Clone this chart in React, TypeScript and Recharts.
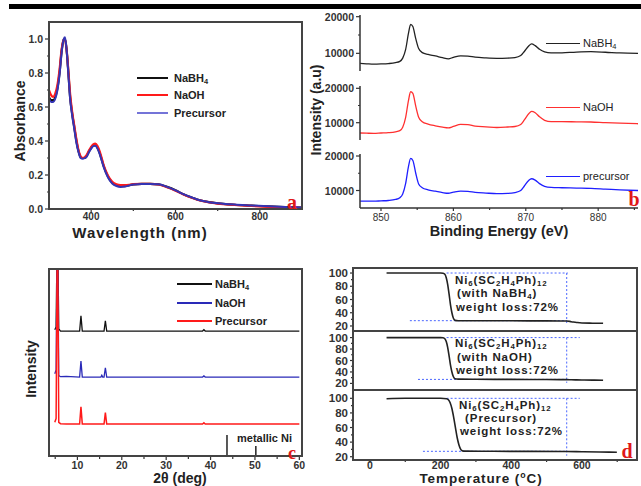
import React from 'react';
import { LineChart, Line, XAxis, YAxis, Legend, ReferenceLine } from 'recharts';

const W = 641;
const H = 486;
const SANS = '"Liberation Sans", Arial, Helvetica, sans-serif';
const SERIF = '"Liberation Serif", "Times New Roman", serif';

// (a) UV-vis absorbance
const uvWavelength = [300, 305, 310, 315, 320, 325, 330, 335, 338, 342, 346, 350, 355, 360, 365, 370, 375, 380, 385, 390, 395, 400, 405, 410, 415, 420, 425, 430, 440, 450, 460, 470, 480, 490, 500, 520, 540, 560, 580, 600, 620, 640, 660, 680, 700, 740, 780, 820, 860, 900];
const uvNaBH4 = [0.66, 0.64, 0.64, 0.66, 0.71, 0.8, 0.93, 1.0, 1.0, 0.93, 0.8, 0.66, 0.56, 0.48, 0.4, 0.34, 0.305, 0.3, 0.3, 0.315, 0.34, 0.36, 0.375, 0.375, 0.36, 0.33, 0.29, 0.25, 0.19, 0.155, 0.14, 0.135, 0.135, 0.14, 0.145, 0.148, 0.148, 0.145, 0.13, 0.11, 0.085, 0.066, 0.05, 0.04, 0.033, 0.025, 0.02, 0.015, 0.011, 0.008];
const uvNaOH = [0.7, 0.67, 0.66, 0.68, 0.73, 0.82, 0.94, 1.0, 1.0, 0.93, 0.81, 0.68, 0.57, 0.49, 0.41, 0.345, 0.31, 0.3, 0.305, 0.32, 0.345, 0.365, 0.38, 0.385, 0.37, 0.34, 0.3, 0.255, 0.195, 0.16, 0.145, 0.14, 0.14, 0.142, 0.146, 0.148, 0.148, 0.144, 0.128, 0.108, 0.084, 0.065, 0.049, 0.039, 0.032, 0.024, 0.018, 0.013, 0.009, 0.006];
const uvPrecursor = [0.65, 0.63, 0.63, 0.65, 0.7, 0.79, 0.92, 1.0, 1.01, 0.93, 0.79, 0.65, 0.55, 0.47, 0.39, 0.335, 0.3, 0.295, 0.3, 0.31, 0.335, 0.355, 0.37, 0.372, 0.355, 0.325, 0.285, 0.245, 0.185, 0.15, 0.135, 0.13, 0.132, 0.138, 0.144, 0.147, 0.147, 0.145, 0.13, 0.11, 0.086, 0.067, 0.05, 0.04, 0.034, 0.026, 0.021, 0.016, 0.012, 0.009];
const uvTicks = [0, 0.1, 0.2, 0.3, 0.4, 0.5, 0.6, 0.7, 0.8, 0.9, 1.0];
const uvMajor = [0, 0.2, 0.4, 0.6, 0.8, 1.0];

// (b) XPS Ni 2p
const xpsEnergy = [847.1, 848, 849, 850, 851, 852, 852.6, 853.0, 853.4, 853.8, 854.1, 854.4, 854.8, 855.2, 855.7, 856.5, 857.5, 858.5, 859.3, 860.0, 861.0, 862.0, 863.0, 864.5, 866, 867.5, 868.5, 869.3, 869.8, 870.4, 870.8, 871.3, 871.9, 872.6, 873.5, 875, 877, 879, 881, 883, 885.5];
const xpsNaBH4 = [7250, 7150, 7050, 7100, 7200, 7450, 7800, 8700, 11000, 15500, 17900, 17300, 14000, 11300, 10200, 9700, 9300, 8800, 8500, 8900, 9300, 9250, 8950, 8750, 8650, 8700, 8850, 9400, 10500, 12000, 12600, 12100, 11100, 10400, 10100, 10150, 10350, 10450, 10300, 10100, 10000];
const xpsNaOH = [7000, 6950, 6900, 7000, 7100, 7350, 7700, 8700, 11500, 16500, 19000, 18500, 14800, 11600, 10300, 9600, 9100, 8700, 8500, 8900, 9500, 9450, 9000, 8800, 8600, 8750, 8900, 9500, 10800, 12600, 13300, 12900, 11700, 10700, 10300, 10300, 10250, 10200, 10000, 9850, 9700];
const xpsPrecursor = [6950, 6900, 6900, 7000, 7100, 7400, 7900, 9000, 12000, 17000, 19300, 18700, 15000, 11900, 10800, 10200, 9800, 9400, 9200, 9500, 9800, 9750, 9450, 9250, 9100, 9150, 9400, 10000, 11300, 12900, 13400, 13000, 12000, 11200, 10900, 10800, 10700, 10600, 10400, 10200, 10000];
const xpsDomains = [[5180, 20460], [4970, 20670], [4930, 20580]];

// (c) XRD (offset traces, arbitrary units)
const xrdAngle = [4.9, 5.2, 5.5, 5.8, 6.2, 7.5, 10.5, 10.8, 11.1, 15.3, 15.5, 15.7, 16.0, 16.3, 16.6, 38.2, 38.5, 38.8, 60];
const xrdNaBH4 = [67.5, 69, 130, 68, 66.8, 66.8, 66.8, 75, 66.8, 66.8, 66.8, 66.8, 66.8, 72.3, 66.8, 66.8, 67.5, 66.8, 66.8];
const xrdNaOH = [44, 46, 130, 43, 42.4, 42.6, 42.2, 50.8, 42.2, 42.2, 43.2, 42.2, 42.2, 47.2, 42.2, 42.2, 42.8, 42.2, 42.2];
const xrdPrecursor = [18, 20, 130, 18, 17.3, 17.1, 17.1, 26.3, 17.1, 17.1, 17.1, 17.1, 17.1, 23.2, 17.1, 17.1, 17.8, 17.1, 17.1];
const niLinePos = [43.7, 50.2];
const niLineHeight = [11.2, 5.3];

// (d) TGA weight %
const tgaTemp12 = [47, 100, 150, 200, 207, 212, 216, 220, 224, 228, 232, 236, 241, 250, 300, 400, 500, 557, 570, 585, 600, 630, 660];
const tgaNaBH4 = [100, 100, 100, 100, 99.6, 98, 93, 83, 68, 52, 40, 32, 28.5, 28, 27.9, 27.8, 27.7, 27.5, 26.5, 25.3, 24.5, 24.2, 24];
const tgaNaOH = [100, 100, 100, 100, 99.6, 98, 93, 83, 68, 52, 40, 32, 28, 27.4, 27.2, 27, 26.8, 26.6, 26.4, 26.2, 26, 25.7, 25.5];
const tgaTemp3 = [47, 100, 150, 200, 217, 222, 227, 232, 237, 242, 247, 252, 257, 262, 270, 350, 450, 557, 600, 650, 699];
const tgaPrecursor = [99.5, 100, 100, 100, 99.5, 98, 94, 86, 74, 60, 46, 36, 30, 28, 27.6, 27.4, 27.3, 27.2, 26.8, 26.4, 26.2];
const tgaDomains = [[12.4, 107.6], [8.5, 111.5], [15.5, 111.4]];
const tgaResidue = [28, 27, 27.4];
const tgaGuideTopEnd = [560, 594, 594];
const tgaGuideLowStart = [113, 136, 150];
const tgaCut = 557;

const uvRows = uvWavelength.map((x, i) => ({ x, nabh4: uvNaBH4[i], naoh: uvNaOH[i], precursor: uvPrecursor[i] }));
const xpsRows = xpsEnergy.map((x, i) => ({ x, nabh4: xpsNaBH4[i], naoh: xpsNaOH[i], precursor: xpsPrecursor[i] }));
const xrdRows = xrdAngle.map((x, i) => ({ x, nabh4: xrdNaBH4[i], naoh: xrdNaOH[i], precursor: xrdPrecursor[i] }));
const tgaRows = [
  tgaTemp12.map((x, i) => ({ x, w: tgaNaBH4[i] })),
  tgaTemp12.map((x, i) => ({ x, w: tgaNaOH[i] })),
  tgaTemp3.map((x, i) => ({ x, w: tgaPrecursor[i] })),
];

type Rect = { l: number; t: number; r: number; b: number };
const rectA: Rect = { l: 49, t: 22, r: 302, b: 209 };
const rectB: Rect[] = [
  { l: 360, t: 15, r: 638, b: 71 },
  { l: 360, t: 86, r: 638, b: 140 },
  { l: 360, t: 154, r: 638, b: 208 },
];
const rectC: Rect = { l: 49, t: 269, r: 302, b: 456 };
const rectD: Rect[] = [
  { l: 353, t: 268, r: 637, b: 331 },
  { l: 353, t: 331, r: 637, b: 390 },
  { l: 353, t: 390, r: 637, b: 460 },
];

const marginFor = (p: Rect, yw: number, xh: number) => ({ left: p.l - yw, top: p.t, right: W - p.r, bottom: H - p.b - xh });

type TickOpt = { len?: number; minor?: number; size?: number; weight?: string; fmt?: (v: number) => string; color?: string; gap?: number };
const tickFactory = (side: 'left' | 'bottom', major: number[], o: TickOpt) => (p: any) => {
  const v = p.payload?.value;
  const isMajor = major.some((m) => Math.abs(m - v) < 1e-9);
  const len = isMajor ? o.len ?? 4 : o.minor ?? 2;
  const color = o.color ?? '#333';
  const gap = o.gap ?? 2;
  const label = isMajor ? (o.fmt ? o.fmt(v) : String(v)) : '';
  const textProps = { fontSize: o.size ?? 10.5, fontWeight: o.weight ?? 'bold', fill: color, fontFamily: SANS };
  if (side === 'left') {
    return (
      <g>
        <line x1={p.x} x2={p.x - len} y1={p.y} y2={p.y} stroke={color} strokeWidth={1.2} />
        {label && <text x={p.x - len - gap} y={p.y} textAnchor="end" dominantBaseline="central" {...textProps}>{label}</text>}
      </g>
    );
  }
  const labelTop = p.y + (o.len ?? 4) + gap;
  return (
    <g>
      <line x1={p.x} x2={p.x} y1={p.y} y2={p.y + len} stroke={color} strokeWidth={1.2} />
      {label && <text x={p.x} y={labelTop} textAnchor="middle" dominantBaseline="hanging" {...textProps}>{label}</text>}
    </g>
  );
};

const Layer = ({ children }: { children: React.ReactNode }) => (
  <div style={{ position: 'absolute', left: 0, top: 0 }}>{children}</div>
);

const Frame = ({ r, color = '#444' }: { r: Rect; color?: string }) => (
  <div style={{ position: 'absolute', left: r.l - 1, top: r.t - 1, width: r.r - r.l - 2, height: r.b - r.t - 2, border: `2px solid ${color}` }} />
);

const Txt = ({ x, y, size, rotate, color = '#222', family = SANS, weight = 'bold', spacing = 0, children }: any) => (
  <div
    style={{
      position: 'absolute', left: x, top: y, fontFamily: family, fontWeight: weight, fontSize: size, color,
      letterSpacing: spacing, whiteSpace: 'nowrap', lineHeight: 1,
      transform: `translate(-50%, -50%)${rotate ? ' rotate(-90deg)' : ''}`,
    }}
  >
    {children}
  </div>
);

const Sub = ({ children }: { children: React.ReactNode }) => (
  <sub style={{ fontSize: '0.68em', verticalAlign: '-0.3em', lineHeight: 0 }}>{children}</sub>
);

type LegendItem = { key: string; color: string; label: React.ReactNode };
const LegendList = ({ items, lineW, gap, rowH, size, weight = 'bold', stroke = 2 }: { items: LegendItem[]; lineW: number; gap: number; rowH: number; size: number; weight?: string; stroke?: number }) => (
  <div style={{ fontFamily: SANS, fontWeight: weight, fontSize: size, color: '#222' }}>
    {items.map((it) => (
      <div key={it.key} style={{ display: 'flex', alignItems: 'center', height: rowH, whiteSpace: 'nowrap' }}>
        <span style={{ display: 'inline-block', width: lineW, height: 0, borderTop: `${stroke}px solid ${it.color}`, marginRight: gap }} />
        <span>{it.label}</span>
      </div>
    ))}
  </div>
);

const blackA = '#111111';
const redA = '#ff1a1a';
const blueA = '#3434b4';

const PanelA = () => (
  <Layer>
    <LineChart width={W} height={H} data={uvRows} margin={marginFor(rectA, 40, 30)}>
      <XAxis dataKey="x" type="number" domain={[300, 900]} allowDataOverflow ticks={[400, 500, 600, 700, 800]} interval={0}
        height={30} axisLine={false} tickLine={false} tickSize={0} tickMargin={0}
        tick={tickFactory('bottom', [400, 600, 800], { size: 10, gap: 0 })} />
      <YAxis type="number" domain={[0, 1.1]} allowDataOverflow ticks={uvTicks} interval={0} width={40}
        axisLine={false} tickLine={false} tickSize={0} tickMargin={0}
        tick={tickFactory('left', uvMajor, { size: 10.5, fmt: (v) => v.toFixed(1) })} />
      <Line type="monotone" dataKey="nabh4" stroke={blackA} strokeWidth={2.2} dot={false} activeDot={false} isAnimationActive={false} />
      <Line type="monotone" dataKey="naoh" stroke={redA} strokeWidth={2.2} dot={false} activeDot={false} isAnimationActive={false} />
      <Line type="monotone" dataKey="precursor" stroke={blueA} strokeWidth={2} dot={false} activeDot={false} isAnimationActive={false} />
      <Legend layout="vertical" align="center" verticalAlign="middle" wrapperStyle={{ left: 137, top: 69, width: 'auto' }}
        content={() => (
          <LegendList lineW={31} gap={6} rowH={17.5} size={11}
            items={[
              { key: 'a1', color: blackA, label: <>NaBH<Sub>4</Sub></> },
              { key: 'a2', color: redA, label: 'NaOH' },
              { key: 'a3', color: '#7474d8', label: 'Precursor' },
            ]} />
        )} />
    </LineChart>
  </Layer>
);

const xpsSeries = [
  { key: 'nabh4', color: '#222222', label: <>NaBH<Sub>4</Sub></>, legendTop: 36 },
  { key: 'naoh', color: '#ff3030', label: 'NaOH', legendTop: 100 },
  { key: 'precursor', color: '#1f1fff', label: 'precursor', legendTop: 169 },
];

const PanelB = () => (
  <>
    {xpsSeries.map((s, i) => {
      const last = i === 2;
      return (
        <Layer key={s.key}>
          <LineChart width={W} height={H} data={xpsRows} margin={marginFor(rectB[i], 42, last ? 22 : 0)}>
            <XAxis dataKey="x" type="number" domain={[847.1, 885.5]} allowDataOverflow
              ticks={[850, 855, 860, 865, 870, 875, 880, 885]} interval={0}
              height={last ? 22 : 0} axisLine={{ stroke: '#666', strokeWidth: 2 }} tickLine={false} tickSize={0} tickMargin={0}
              tick={last ? tickFactory('bottom', [850, 860, 870, 880], { size: 10, weight: 'normal', color: '#333', gap: 3, len: 3 }) : false} />
            <YAxis type="number" domain={xpsDomains[i]} allowDataOverflow ticks={[10000, 15000, 20000]} interval={0} width={42}
              axisLine={{ stroke: '#333', strokeWidth: 1.5 }} tickLine={false} tickSize={0} tickMargin={0}
              tick={tickFactory('left', [10000, 20000], { size: 10.5, len: 4, gap: 2 })} />
            <Line type="monotone" dataKey={s.key} stroke={s.color} strokeWidth={1.3} dot={false} activeDot={false} isAnimationActive={false} />
            <Legend layout="vertical" align="center" verticalAlign="middle" wrapperStyle={{ left: 546, top: s.legendTop, width: 'auto' }}
              content={() => (
                <LegendList lineW={34} gap={3} rowH={14} size={11} weight="normal" stroke={1.5}
                  items={[{ key: s.key, color: s.color, label: s.label }]} />
              )} />
          </LineChart>
        </Layer>
      );
    })}
  </>
);

const blackC = '#111111';
const blueC = '#2a2ab8';
const redC = '#ff1a1a';

const PanelC = () => (
  <Layer>
    <LineChart width={W} height={H} data={xrdRows} margin={marginFor(rectC, 0, 30)}>
      <XAxis dataKey="x" type="number" domain={[3.6, 60.6]} allowDataOverflow
        ticks={[5, 10, 15, 20, 25, 30, 35, 40, 45, 50, 55, 60]} interval={0}
        height={30} axisLine={false} tickLine={false} tickSize={0} tickMargin={0}
        tick={tickFactory('bottom', [10, 20, 30, 40, 50, 60], { size: 10.5, len: 4, minor: 3, gap: 1 })} />
      <YAxis type="number" domain={[0, 100]} allowDataOverflow hide width={0} />
      <Line type="linear" dataKey="nabh4" stroke={blackC} strokeWidth={1.3} dot={false} activeDot={false} isAnimationActive={false} />
      <Line type="linear" dataKey="naoh" stroke={blueC} strokeWidth={1.3} dot={false} activeDot={false} isAnimationActive={false} />
      <Line type="linear" dataKey="precursor" stroke={redC} strokeWidth={1.5} dot={false} activeDot={false} isAnimationActive={false} />
      {niLinePos.map((x, i) => (
        <ReferenceLine key={`ni${i}`} segment={[{ x, y: 0 }, { x, y: niLineHeight[i] }]} stroke="#222" strokeWidth={1.5} />
      ))}
      <Legend layout="vertical" align="center" verticalAlign="middle" wrapperStyle={{ left: 177, top: 275, width: 'auto' }}
        content={() => (
          <LegendList lineW={35} gap={3} rowH={18.5} size={11} stroke={2}
            items={[
              { key: 'c1', color: blackC, label: <>NaBH<Sub>4</Sub></> },
              { key: 'c2', color: blueC, label: 'NaOH' },
              { key: 'c3', color: redC, label: 'Precursor' },
            ]} />
        )} />
    </LineChart>
  </Layer>
);

const guide = { stroke: '#4a66ff', strokeWidth: 1, strokeDasharray: '2 2' };

const PanelD = () => (
  <>
    {tgaRows.map((rows, i) => {
      const last = i === 2;
      const hi = 100;
      const lo = tgaResidue[i];
      return (
        <Layer key={`d${i}`}>
          <LineChart width={W} height={H} data={rows} margin={marginFor(rectD[i], 40, last ? 26 : 0)}>
            <XAxis dataKey="x" type="number" domain={[-48, 756]} allowDataOverflow
              ticks={[0, 100, 200, 300, 400, 500, 600, 700]} interval={0}
              height={last ? 26 : 0} axisLine={false} tickLine={false} tickSize={0} tickMargin={0}
              tick={last ? tickFactory('bottom', [0, 200, 400, 600], { size: 10.5, len: 3, minor: 2, gap: -2 }) : false} />
            <YAxis type="number" domain={tgaDomains[i]} allowDataOverflow ticks={[20, 30, 40, 50, 60, 70, 80, 90, 100]} interval={0} width={40}
              axisLine={false} tickLine={false} tickSize={0} tickMargin={0}
              tick={tickFactory('left', [20, 40, 60, 80, 100], { size: 11.5, len: 3, minor: 2, gap: 2 })} />
            <ReferenceLine segment={[{ x: 217, y: hi }, { x: tgaGuideTopEnd[i], y: hi }]} {...guide} />
            <ReferenceLine segment={[{ x: tgaGuideLowStart[i], y: lo }, { x: tgaCut, y: lo }]} {...guide} />
            <ReferenceLine segment={[{ x: tgaCut, y: hi }, { x: tgaCut, y: lo - 6 }]} {...guide} />
            <Line type="monotone" dataKey="w" stroke="#222" strokeWidth={1.6} dot={false} activeDot={false} isAnimationActive={false} />
          </LineChart>
        </Layer>
      );
    })}
  </>
);

const noteStyle: React.CSSProperties = { position: 'absolute', fontFamily: SANS, fontWeight: 'bold', fontSize: 11.5, color: '#222', whiteSpace: 'nowrap', lineHeight: 1, letterSpacing: 0.9 };

const TgaNote = ({ x, y, mid }: { x: number; y: number[]; mid: React.ReactNode }) => (
  <>
    <div style={{ ...noteStyle, left: x, top: y[0] - 6 }}>
      Ni<Sub>6</Sub>(SC<Sub>2</Sub>H<Sub>4</Sub>Ph)<Sub>12</Sub>
    </div>
    <div style={{ ...noteStyle, left: x + 2, top: y[1] - 6 }}>{mid}</div>
    <div style={{ ...noteStyle, left: x + 1, top: y[2] - 6 }}>weight loss:72%</div>
  </>
);

export default function App() {
  return (
    <div style={{ position: 'absolute', left: 0, top: 0, width: W, height: H, background: '#fff', overflow: 'hidden' }}>
      <div style={{ position: 'absolute', left: 9, top: 4, width: 632, height: 5, background: '#000' }} />

      <Txt x={316} y={110} size={14} rotate>Intensity (a.u)</Txt>

      <PanelA />
      <PanelB />
      <PanelC />
      <PanelD />

      <Frame r={rectA} />
      <Frame r={rectC} />
      <Frame r={{ l: rectD[0].l, t: rectD[0].t, r: rectD[2].r, b: rectD[2].b }} />
      <div style={{ position: 'absolute', left: rectD[0].l, top: rectD[0].b - 1, width: rectD[0].r - rectD[0].l, height: 2, background: '#444' }} />
      <div style={{ position: 'absolute', left: rectD[1].l, top: rectD[1].b - 1, width: rectD[1].r - rectD[1].l, height: 2, background: '#444' }} />

      <Txt x={20} y={121} size={14} rotate>Absorbance</Txt>
      <Txt x={140} y={232} size={15} spacing={1}>Wavelength (nm)</Txt>
      <Txt x={499} y={231} size={14.5}>Binding Energy (eV)</Txt>
      <Txt x={31} y={369} size={14} rotate>Intensity</Txt>
      <Txt x={180} y={478} size={14}>2θ (deg)</Txt>
      <Txt x={481} y={478.5} size={13.5} spacing={0.9}>Temperature (<sup style={{ fontSize: '0.65em', lineHeight: 0 }}>o</sup>C)</Txt>

      <div style={{ position: 'absolute', left: 237, top: 433, fontFamily: SANS, fontWeight: 'bold', fontSize: 11, color: '#222', whiteSpace: 'nowrap', lineHeight: 1 }}>metallic Ni</div>

      <TgaNote x={455} y={[280.5, 294, 307.5]} mid={<>(with NaBH<Sub>4</Sub>)</>} />
      <TgaNote x={455} y={[344, 357.5, 370.5]} mid="(with NaOH)" />
      <TgaNote x={459} y={[405.5, 418.5, 432]} mid={<>&nbsp;(Precursor)</>} />

      <Txt x={292} y={202} size={20} color="#e01818" family={SERIF}>a</Txt>
      <Txt x={634} y={199} size={20} color="#e01818" family={SERIF}>b</Txt>
      <Txt x={292} y={453} size={18} color="#e01818" family={SERIF}>c</Txt>
      <Txt x={627} y={451} size={20} color="#e01818" family={SERIF}>d</Txt>
    </div>
  );
}
